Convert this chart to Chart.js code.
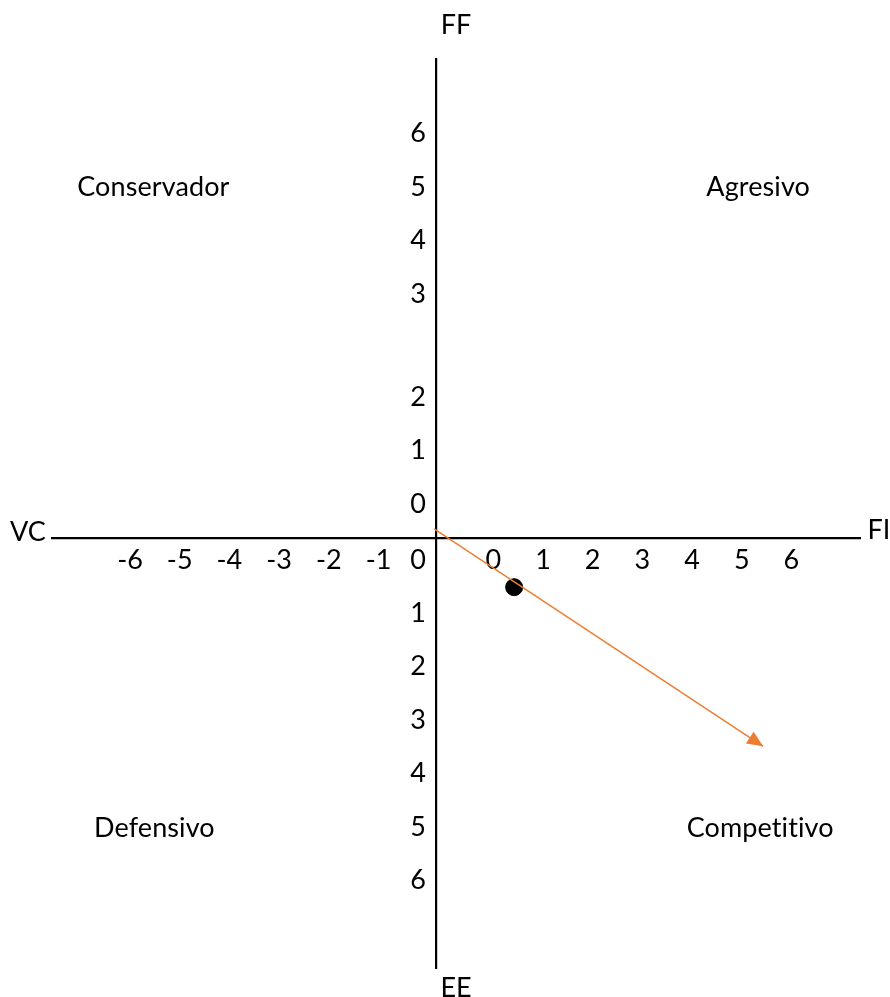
<!DOCTYPE html>
<html>
<head>
<meta charset="utf-8">
<script src="https://cdn.jsdelivr.net/npm/chart.js@4.4.0/dist/chart.umd.min.js"></script>
<style>
    body { margin: 0; background: #fff; }
    #wrap { width: 890px; height: 997px; position: relative; }
</style>
</head>
<body>
<div id="wrap"><canvas id="myChart"></canvas></div>
<script>
// nombres de los ejes y cuadrantes
var axisNames = { top: 'FF', bottom: 'EE', left: 'VC', right: 'FI' };
var quadrants = ['Conservador', 'Agresivo', 'Defensivo', 'Competitivo'];

// etiquetas de las escalas, como aparecen en la figura
var xLabelsLeft = [-6, -5, -4, -3, -2, -1];
var xLabelsRight = [0, 1, 2, 3, 4, 5, 6];
var yLabelsUp = [0, 1, 2, 3, 4, 5, 6];
var yLabelsDown = [0, 1, 2, 3, 4, 5, 6];

// vector (flecha) y punto resultante, en coordenadas del cruce de ejes
var vectorX = [-0.04, 6.58];
var vectorY = [0.17, -3.90];
var pointX = [1.57];
var pointY = [-0.92];

var fontFamily = "Lato, 'Open Sans', sans-serif";
var fontSize = 27;

// donde cae cada etiqueta en la escala
function xTickPos(v, side) { return side == 'left' ? v - 0.16 : v + 1.15; }
function yTickPosUp(v) { return v <= 2 ? v + 0.64 : v + 1.57; }
function yTickPosDown(v) { return -(v + 0.41); }

var xTicks = xLabelsLeft.map(function (v) { return { value: xTickPos(v, 'left'), label: String(v) }; })
    .concat(xLabelsRight.map(function (v) { return { value: xTickPos(v, 'right'), label: String(v) }; }));

var quadPos = [[-5.69, 6.57], [6.48, 6.57], [-5.67, -5.43], [6.52, -5.43]];

var textPlugin = {
    id: 'textPlugin',
    afterDraw: function (chart) {
        var c = chart.ctx;
        var xs = chart.scales.x, ys = chart.scales.y;
        var area = chart.chartArea;
        var x0 = xs.getPixelForValue(0), y0 = ys.getPixelForValue(0);
        c.save();
        c.fillStyle = '#000';
        c.font = fontSize + 'px ' + fontFamily;
        c.textAlign = 'center';
        c.textBaseline = 'middle';

        yLabelsUp.forEach(function (v) { c.fillText(String(v), x0 - 18, ys.getPixelForValue(yTickPosUp(v))); });
        yLabelsDown.forEach(function (v) { c.fillText(String(v), x0 - 18, ys.getPixelForValue(yTickPosDown(v))); });

        c.fillText(axisNames.top, x0 + 20, area.top - 34);
        c.fillText(axisNames.bottom, x0 + 20, area.bottom + 20);
        c.fillText(axisNames.left, area.left - 24, y0 - 6);
        c.fillText(axisNames.right, area.right + 19, y0 - 8);

        // sin ligaduras (ti) en los textos de cuadrante
        if ('letterSpacing' in c) c.letterSpacing = '0.1px';
        quadrants.forEach(function (q, i) {
            c.fillText(q, xs.getPixelForValue(quadPos[i][0]), ys.getPixelForValue(quadPos[i][1]));
        });

        // punta de flecha
        var pts = chart.getDatasetMeta(0).data;
        var p0 = pts[0], p1 = pts[pts.length - 1];
        var ang = Math.atan2(p1.y - p0.y, p1.x - p0.x);
        var len = 16, hw = 7;
        c.fillStyle = '#ED7D31';
        c.beginPath();
        c.moveTo(p1.x, p1.y);
        c.lineTo(p1.x - len * Math.cos(ang) + hw * Math.sin(ang), p1.y - len * Math.sin(ang) - hw * Math.cos(ang));
        c.lineTo(p1.x - len * Math.cos(ang) - hw * Math.sin(ang), p1.y - len * Math.sin(ang) + hw * Math.cos(ang));
        c.closePath();
        c.fill();
        c.restore();
    }
};

Chart.defaults.font.family = fontFamily;
Chart.defaults.font.size = fontSize;
Chart.defaults.color = '#000';

var ctx = document.getElementById('myChart').getContext('2d');
var myChart = new Chart(ctx, {
    type: 'scatter',
    data: {
        datasets: [{
            data: vectorX.map(function (x, i) { return { x: x, y: vectorY[i] }; }),
            showLine: true,
            borderColor: '#ED7D31',
            borderWidth: 1.5,
            pointRadius: 0,
            pointHoverRadius: 0
        }, {
            data: pointX.map(function (x, i) { return { x: x, y: pointY[i] }; }),
            backgroundColor: '#000',
            borderColor: '#000',
            pointRadius: 8.5
        }]
    },
    options: {
        responsive: true,
        maintainAspectRatio: false,
        animation: false,
        layout: { padding: { left: 52, right: 30, top: 59, bottom: 29 } },
        plugins: {
            legend: { display: false },
            tooltip: { enabled: false }
        },
        scales: {
            x: {
                type: 'linear',
                min: -7.73,
                max: 8.53,
                position: { y: 0 },
                grid: { color: 'rgba(0,0,0,0)', drawTicks: false },
                border: { color: '#000', width: 2.3 },
                afterBuildTicks: function (scale) {
                    scale.ticks = xTicks.map(function (t) { return { value: t.value }; });
                },
                ticks: {
                    autoSkip: false,
                    maxRotation: 0,
                    padding: 6,
                    callback: function (value, index) { return xTicks[index].label; }
                }
            },
            y: {
                type: 'linear',
                min: -8.05,
                max: 8.97,
                position: { x: 0 },
                grid: { color: 'rgba(0,0,0,0)', drawTicks: false },
                border: { color: '#000', width: 2.2 },
                ticks: { display: false }
            }
        }
    },
    plugins: [textPlugin]
});
</script>
</body>
</html>
